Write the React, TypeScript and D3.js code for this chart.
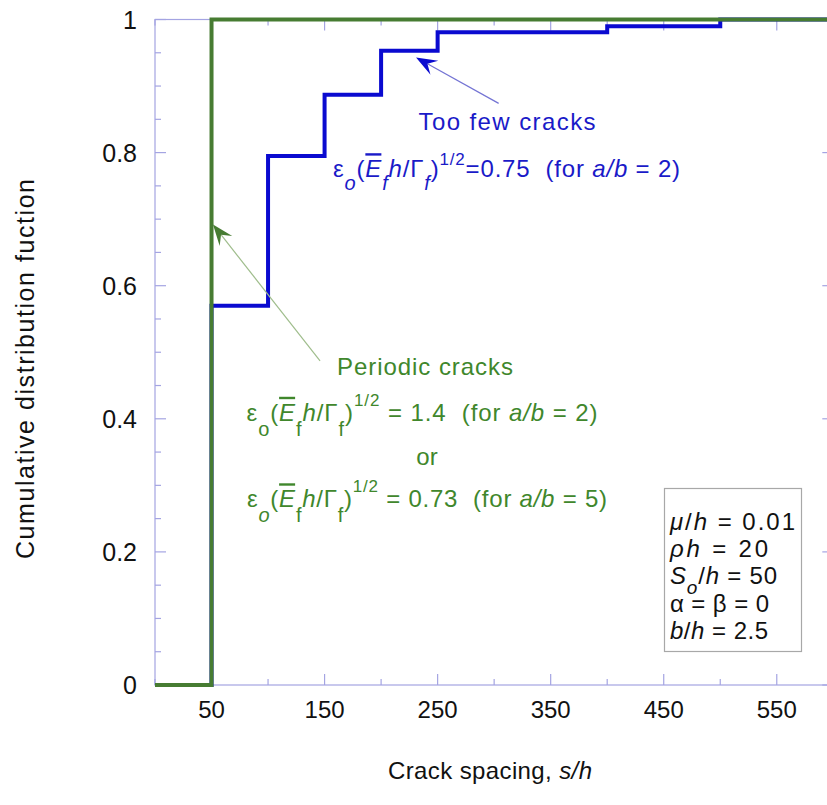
import React from "react";
import * as d3 from "d3";

// ---------------- data ----------------
const spacingPeriodic = [0, 50, 600];
const cdfPeriodic = [0, 1, 1];
const spacingFew = [0, 50, 100, 150, 200, 250, 400, 500, 600];
const cdfFew = [0, 0.57, 0.795, 0.887, 0.953, 0.981, 0.99, 1.0, 1.0];

const xTickValues = [50, 150, 250, 350, 450, 550];
const xMinorValues = [0, 100, 200, 300, 400, 500, 600];
const yTickValues = [0, 0.2, 0.4, 0.6, 0.8, 1];
const yMinorValues = [0.05, 0.1, 0.15, 0.25, 0.3, 0.35, 0.45, 0.5, 0.55, 0.65, 0.7, 0.75, 0.85, 0.9, 0.95];

const xTitle = "Crack spacing, ";
const xTitleItalic = "s/h";
const yTitle = "Cumulative distribution fuction";

// ---------------- styles ----------------
const W = 827;
const H = 805;
const AXIS = "#a4a4e2";
const BLUE = "#0a0ad0";
const BLUE_TEXT = "#1a1ac8";
const GREEN = "#477c32";
const GREEN_TEXT = "#40872c";
const FONT = "'Liberation Sans', Arial, Helvetica, sans-serif";

type Seg = { t: string; it?: boolean; sub?: boolean; sup?: boolean; bar?: boolean };

function RichText(props: {
  x: number; y: number; segs: Seg[]; fill: string; size: number; width?: number;
  anchor?: string; subSize?: number; subDy?: number; supSize?: number; supDy?: number;
}) {
  const { x, y, segs, fill, size, width, anchor = "middle" } = props;
  const subSize = props.subSize ?? 20;
  const subDy = props.subDy ?? 14;
  const supSize = props.supSize ?? 17;
  const supDy = props.supDy ?? -12;
  let cur = 0;
  const kids = segs.map((s, i) => {
    const target = s.sub ? subDy : s.sup ? supDy : 0;
    const dy = target - cur;
    cur = target;
    return (
      <tspan
        key={i}
        dy={dy}
        fontStyle={s.it ? "italic" : "normal"}
        fontSize={s.sub ? subSize : s.sup ? supSize : size}
        style={s.bar ? { textDecoration: "overline" } : undefined}
      >
        {s.t}
      </tspan>
    );
  });
  return (
    <text
      x={x}
      y={y}
      textAnchor={anchor}
      fill={fill}
      fontSize={size}
      fontFamily={FONT}
      style={{ whiteSpace: "pre" }}
      {...(width ? { textLength: width, lengthAdjust: "spacing" } : {})}
    >
      {kids}
    </text>
  );
}

function Arrow(props: { x1: number; y1: number; x2: number; y2: number; line: string; head: string }) {
  const { x1, y1, x2, y2, line, head } = props;
  const dx = x2 - x1, dy = y2 - y1;
  const len = Math.hypot(dx, dy);
  const ux = dx / len, uy = dy / len;
  const nx = -uy, ny = ux;
  const L = 21, Wd = 8, N = 13;
  const p = [
    [x2, y2],
    [x2 - L * ux + Wd * nx, y2 - L * uy + Wd * ny],
    [x2 - N * ux, y2 - N * uy],
    [x2 - L * ux - Wd * nx, y2 - L * uy - Wd * ny],
  ];
  return (
    <g>
      <line x1={x1} y1={y1} x2={x2 - N * ux} y2={y2 - N * uy} stroke={line} strokeWidth={1.2} />
      <path d={"M" + p.map((q) => q.join(",")).join("L") + "Z"} fill={head} />
    </g>
  );
}

export default function App() {
  const left = 155, right = 833.3, top = 19.5, bottom = 685;
  const x = d3.scaleLinear().domain([0, 600]).range([left, right]);
  const y = d3.scaleLinear().domain([0, 1]).range([bottom, top]);

  const line = d3
    .line<[number, number]>()
    .x((d) => x(d[0]))
    .y((d) => y(d[1]))
    .curve(d3.curveStepAfter);

  const fewPts = spacingFew.map((s, i) => [s, cdfFew[i]] as [number, number]);
  const perPts = spacingPeriodic.map((s, i) => [s, cdfPeriodic[i]] as [number, number]);

  const fmt = d3.format("~g");

  // annotation anchors in data coordinates
  const blueTip = [230.9, 0.943], blueTail = [304, 0.874];
  const greenTip = [51.3, 0.692], greenTail = [146, 0.487];

  const blueFormula: Seg[] = [
    { t: "ε" }, { t: "o", it: true, sub: true }, { t: "(" }, { t: "E", it: true, bar: true },
    { t: "f", it: true, sub: true }, { t: "h", it: true }, { t: "/Γ" }, { t: "f", it: true, sub: true },
    { t: ")" }, { t: "1/2", sup: true }, { t: "=0.75  (for " }, { t: "a/b", it: true }, { t: " = 2)" },
  ];
  const greenFormula1: Seg[] = [
    { t: "ε" }, { t: "o", sub: true }, { t: "(" }, { t: "E", it: true, bar: true },
    { t: "f", sub: true }, { t: "h", it: true }, { t: "/Γ" }, { t: "f", sub: true },
    { t: ")" }, { t: "1/2", sup: true }, { t: " = 1.4  (for " }, { t: "a/b", it: true }, { t: " = 2)" },
  ];
  const greenFormula2: Seg[] = [
    { t: "ε" }, { t: "o", it: true, sub: true }, { t: "(" }, { t: "E", it: true, bar: true },
    { t: "f", sub: true }, { t: "h", it: true }, { t: "/Γ" }, { t: "f", sub: true },
    { t: ")" }, { t: "1/2", sup: true }, { t: " = 0.73  (for " }, { t: "a/b", it: true }, { t: " = 5)" },
  ];

  const params: Seg[][] = [
    [{ t: "μ", it: true }, { t: "/" }, { t: "h", it: true }, { t: " = 0.01" }],
    [{ t: "ρ", it: true }, { t: "h", it: true }, { t: " = 20" }],
    [{ t: "S", it: true }, { t: "o", it: true, sub: true }, { t: "/" }, { t: "h", it: true }, { t: " = 50" }],
    [{ t: "α = β = 0" }],
    [{ t: "b", it: true }, { t: "/" }, { t: "h", it: true }, { t: " = 2.5" }],
  ];
  const paramBaselines = [530, 557, 584, 612, 639];
  const paramWidths = [125, 98, 107, 99, 98];

  return (
    <svg
      width={W}
      height={H}
      viewBox={`0 0 ${W} ${H}`}
      style={{ position: "absolute", left: 0, top: 0, background: "#fff" }}
      fontFamily={FONT}
    >
      <rect width={W} height={H} fill="#fff" />
      {/* frame */}
      <rect x={left} y={top} width={right - left} height={bottom - top} fill="none" stroke={AXIS} strokeWidth={1.2} />
      {/* x ticks bottom & top */}
      {xTickValues.map((v) => (
        <g key={"xt" + v}>
          <line x1={x(v)} x2={x(v)} y1={bottom} y2={bottom - 11} stroke={AXIS} strokeWidth={1.2} />
          <line x1={x(v)} x2={x(v)} y1={top} y2={top + 11} stroke={AXIS} strokeWidth={1.2} />
          <text x={x(v)} y={718} textAnchor="middle" fontSize={24} fill="#111">{v}</text>
        </g>
      ))}
      {xMinorValues.map((v) => (
        <g key={"xm" + v}>
          <line x1={x(v)} x2={x(v)} y1={bottom} y2={bottom - 6} stroke={AXIS} strokeWidth={1.2} />
          <line x1={x(v)} x2={x(v)} y1={top} y2={top + 6} stroke={AXIS} strokeWidth={1.2} />
        </g>
      ))}
      {/* y ticks */}
      {yTickValues.map((v) => (
        <g key={"yt" + v}>
          <line x1={left} x2={left + 11} y1={y(v)} y2={y(v)} stroke={AXIS} strokeWidth={1.2} />
          <line x1={right} x2={right - 11} y1={y(v)} y2={y(v)} stroke={AXIS} strokeWidth={1.2} />
          <text x={137} y={y(v)} dy="0.36em" textAnchor="end" fontSize={25} fill="#111">{fmt(v)}</text>
        </g>
      ))}
      {yMinorValues.map((v) => (
        <g key={"ym" + v}>
          <line x1={left} x2={left + 6} y1={y(v)} y2={y(v)} stroke={AXIS} strokeWidth={1.2} />
          <line x1={right} x2={right - 6} y1={y(v)} y2={y(v)} stroke={AXIS} strokeWidth={1.2} />
        </g>
      ))}

      {/* titles */}
      <text x={490} y={779} textAnchor="middle" fontSize={24} fill="#111" textLength={204} lengthAdjust="spacing">
        {xTitle}
        <tspan fontStyle="italic">{xTitleItalic}</tspan>
      </text>
      <text
        transform={`translate(34,369) rotate(-90)`}
        textAnchor="middle"
        fontSize={25}
        fill="#111"
        textLength={380}
        lengthAdjust="spacing"
      >
        {yTitle}
      </text>

      {/* series */}
      <path d={line(fewPts) || ""} fill="none" stroke={BLUE} strokeWidth={4} />
      <path d={line(perPts) || ""} fill="none" stroke={GREEN} strokeWidth={4} />

      {/* annotations */}
      <Arrow x1={x(blueTail[0])} y1={y(blueTail[1])} x2={x(blueTip[0])} y2={y(blueTip[1])} line="#7474d4" head={BLUE} />
      <Arrow x1={x(greenTail[0])} y1={y(greenTail[1])} x2={x(greenTip[0])} y2={y(greenTip[1])} line="#9fbd8c" head={GREEN} />

      <text x={x(311.4)} y={y(0.834)} textAnchor="middle" fontSize={24} fill={BLUE_TEXT} textLength={177} lengthAdjust="spacing">
        Too few cracks
      </text>
      <RichText x={x(311)} y={y(0.763)} segs={blueFormula} fill={BLUE_TEXT} size={24} width={347} subDy={13} supDy={-12} />

      <text x={x(238.8)} y={y(0.466)} textAnchor="middle" fontSize={24} fill={GREEN_TEXT} textLength={176} lengthAdjust="spacing">
        Periodic cracks
      </text>
      <RichText x={x(236.2)} y={y(0.397)} segs={greenFormula1} fill={GREEN_TEXT} size={24} width={351} subDy={15} supDy={-15} />
      <text x={x(240.6)} y={y(0.330)} textAnchor="middle" fontSize={24} fill={GREEN_TEXT}>or</text>
      <RichText x={x(240.6)} y={y(0.267)} segs={greenFormula2} fill={GREEN_TEXT} size={24} width={360} subDy={15} supDy={-15} />

      {/* parameter box */}
      <rect x={664.5} y={488.5} width={137} height={163} fill="#fff" stroke="#a8a8a8" strokeWidth={1.2} />
      {params.map((segs, i) => (
        <RichText
          key={i}
          x={670}
          y={paramBaselines[i]}
          segs={segs}
          fill="#111"
          size={24}
          width={paramWidths[i]}
          anchor="start"
          subSize={19}
          subDy={10}
        />
      ))}
    </svg>
  );
}
